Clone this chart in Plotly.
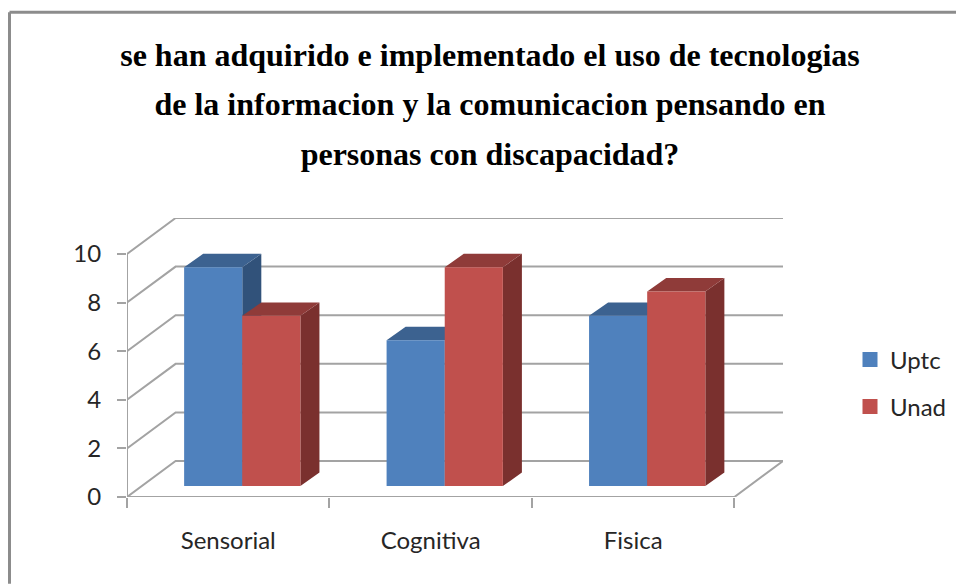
import plotly.graph_objects as go

title_lines = ["se han adquirido e implementado el uso de tecnologias",
               "de la informacion y la comunicacion pensando en",
               "personas con discapacidad?"]
categories = ["Sensorial", "Cognitiva", "Fisica"]
uptc = [9, 6, 7]
unad = [7, 9, 8]
value_ticks = [0, 2, 4, 6, 8, 10]

GRID = "#a3a3a3"
TEXT = "#262626"
FONT = "Lato"
# geometry of the oblique projection, in axis units
PX_X, PX_Y = 202.0, 24.35          # pixels per axis unit
FLOOR_DX, FLOOR_DY = 48.5 / PX_X, 36 / PX_Y
BAR_DX, BAR_DY = 19 / PX_X, 13.5 / PX_Y
BAR_W = 58 / PX_X
BASE = 11 / PX_Y
STARTS = {"Uptc": 57 / PX_X, "Unad": 115 / PX_X}
n = len(categories)
top_v = value_ticks[-1]


def faces(values, start):
    front_x, front_y, side_x, side_y, top_x, top_y = [], [], [], [], [], []
    for i, v in enumerate(values):
        x0, x1 = i + start, i + start + BAR_W
        y0, y1 = BASE, BASE + v
        front_x += [x0, x1, x1, x0, x0, None]
        front_y += [y0, y0, y1, y1, y0, None]
        side_x += [x1, x1 + BAR_DX, x1 + BAR_DX, x1, x1, None]
        side_y += [y0, y0 + BAR_DY, y1 + BAR_DY, y1, y0, None]
        top_x += [x0, x0 + BAR_DX, x1 + BAR_DX, x1, x0, None]
        top_y += [y1, y1 + BAR_DY, y1 + BAR_DY, y1, y1, None]
    return front_x, front_y, side_x, side_y, top_x, top_y


fig = go.Figure()

# walls: back gridlines with their connectors on the left wall, and the floor
gx, gy = [], []
for v in value_ticks:
    gx += [0, FLOOR_DX, n + FLOOR_DX, None]
    gy += [v, v + FLOOR_DY, v + FLOOR_DY, None]
gx += [0, 0, None, 0, n, n + FLOOR_DX]
gy += [0, top_v, None, 0, 0, FLOOR_DY]
fig.add_trace(go.Scatter(x=gx, y=gy, mode="lines", line=dict(color=GRID, width=2),
                         hoverinfo="skip", showlegend=False))

series = [("Uptc", uptc, "#4f81bd", "#31527a", "#3c6290"),
          ("Unad", unad, "#c0504d", "#7a302e", "#8f3b39")]
for name, vals, front, side, top in series:
    fx, fy, sx, sy, tx, ty = faces(vals, STARTS[name])
    fig.add_trace(go.Scatter(x=sx, y=sy, mode="lines", fill="toself", fillcolor=side,
                             line=dict(width=0, color=side), hoverinfo="skip",
                             showlegend=False, legendgroup=name))
    fig.add_trace(go.Scatter(x=tx, y=ty, mode="lines", fill="toself", fillcolor=top,
                             line=dict(width=0, color=top), hoverinfo="skip",
                             showlegend=False, legendgroup=name))
    fig.add_trace(go.Scatter(x=fx, y=fy, mode="lines", fill="toself", fillcolor=front,
                             line=dict(width=0, color=front), name=name,
                             showlegend=False, legendgroup=name))
    fig.add_trace(go.Scatter(x=[None], y=[None], mode="markers", name=name, legendgroup=name,
                             marker=dict(symbol="square", size=15, color=front)))

title_html = "<br>".join(f'<span style="font-size:32px">{t}</span>' for t in title_lines)

W, H = 956, 584
L, R, T, B = 127, 173, 217.5, 87
pw, ph = W - L - R, H - T - B


def paper_x(px):
    return (px - L) / pw


def paper_y(px):
    return (H - B - px) / ph


fig.update_layout(
    width=W, height=H, autosize=False,
    margin=dict(l=L, r=R, t=T, b=B, pad=0, autoexpand=False),
    paper_bgcolor="white", plot_bgcolor="white",
    font=dict(family=FONT, size=24, color=TEXT),
    title=dict(text=title_html, x=490 / W, xanchor="center", xref="container",
               y=1 - 66 / H, yanchor="top", yref="container",
               font=dict(family="Liberation Serif", size=38, color="#000000", weight="bold")),
    xaxis=dict(range=[0, n + FLOOR_DX], tickmode="array",
               tickvals=[i + 0.5 for i in range(n)], ticktext=categories,
               ticks="", showgrid=False, zeroline=False, showline=False,
               ticklabelstandoff=27, tickangle=0,
               minor=dict(tickmode="array", tickvals=list(range(n + 1)), ticks="outside",
                          ticklen=10, tickwidth=2, tickcolor=GRID, showgrid=False)),
    yaxis=dict(range=[0, (H - B - T) / PX_Y], tickmode="array", tickvals=value_ticks,
               ticks="outside", ticklen=9, tickwidth=2, tickcolor=GRID,
               showgrid=False, zeroline=False, showline=False, ticklabelstandoff=11),
    legend=dict(x=paper_x(850), xanchor="left", y=paper_y(337), yanchor="top",
                traceorder="grouped", tracegroupgap=13, bgcolor="rgba(0,0,0,0)",
                font=dict(family=FONT, size=24, color=TEXT)),
    shapes=[dict(type="line", xref="paper", yref="paper", line=dict(color="#8c8c8c", width=3),
                 x0=paper_x(9.5), x1=paper_x(9.5), y0=paper_y(H), y1=paper_y(11.5)),
            dict(type="line", xref="paper", yref="paper", line=dict(color="#8c8c8c", width=3),
                 x0=paper_x(9.5), x1=paper_x(W), y0=paper_y(11.5), y1=paper_y(11.5))],
)

fig.write_html("out.html", post_script="document.body.style.margin='0';",
               config=dict(displayModeBar=False))
